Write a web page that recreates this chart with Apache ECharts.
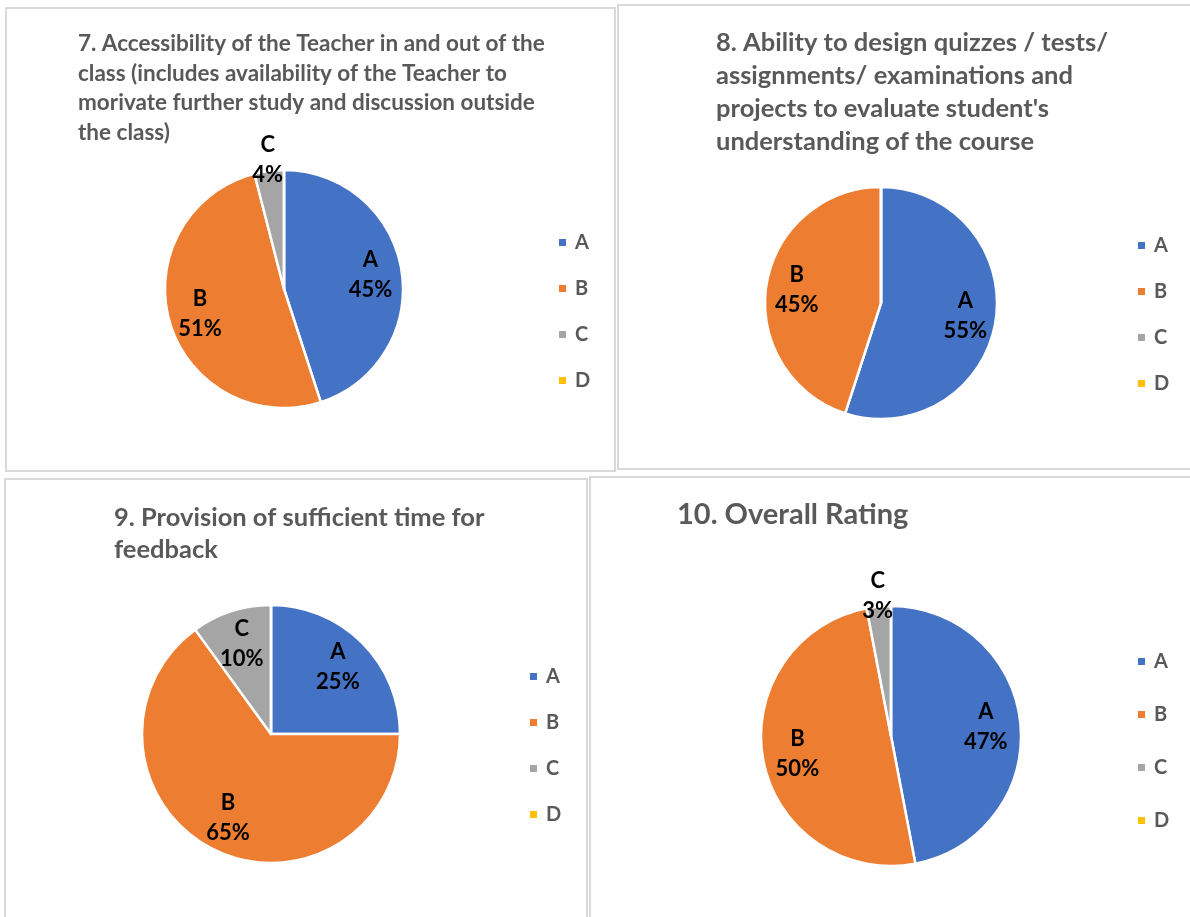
<!DOCTYPE html>
<html><head><meta charset="utf-8">
<script src="https://cdn.jsdelivr.net/npm/echarts@6/dist/echarts.min.js"></script>
<style>html,body{margin:0;padding:0;background:#fff}#c{width:1190px;height:917px}</style>
</head><body><div id="c"></div>
<script>
// ---- data ----
const categories = ['A', 'B', 'C', 'D'];
const q7Values = [45, 51, 4, 0];
const q8Values = [55, 45, 0, 0];
const q9Values = [25, 65, 10, 0];
const q10Values = [47, 50, 3, 0];
const q7Title = '7. Accessibility of the Teacher in and out of the\nclass (includes availability of the Teacher to\nmorivate further study and discussion outside\nthe class)';
const q8Title = '8. Ability to design quizzes / tests/\nassignments/ examinations and\nprojects to evaluate student\'s\nunderstanding of the course';
const q9Title = '9. Provision of sufficient time for\nfeedback';
const q10Title = '10. Overall Rating';
// categories whose label sits outside the pie
const q7OutsideLabels = ['C'];
const q8OutsideLabels = [];
const q9OutsideLabels = [];
const q10OutsideLabels = ['C'];

const colors = ['#4472C4', '#ED7D31', '#A5A5A5', '#FFC000'];
const FONT = 'Lato';

const panels = [
  {values: q7Values, title: q7Title, outside: q7OutsideLabels,
   center: [284, 289], r: 119, titlePos: [78, 29], titleSize: 22.5, titleLH: 29.5,
   legend: {left: 557, top: 232, gap: 25}},
  {values: q8Values, title: q8Title, outside: q8OutsideLabels,
   center: [881, 303], r: 116, titlePos: [716, 26], titleSize: 25.5, titleLH: 33,
   legend: {left: 1136, top: 235, gap: 25}},
  {values: q9Values, title: q9Title, outside: q9OutsideLabels,
   center: [271, 734], r: 129, titlePos: [114, 502], titleSize: 25.5, titleLH: 32,
   legend: {left: 528, top: 666, gap: 25}},
  {values: q10Values, title: q10Title, outside: q10OutsideLabels,
   center: [891, 736], r: 130, titlePos: [677, 497], titleSize: 29, titleLH: 36,
   legend: {left: 1136, top: 651, gap: 32}}
];

const borders = [
  {x: 6, y: 8, width: 609, height: 463},
  {x: 618, y: 5, width: 580, height: 464},
  {x: 5, y: 479, width: 582, height: 445},
  {x: 590, y: 477, width: 610, height: 447}
];

const labelStyle = {
  fontFamily: FONT, fontWeight: 'bold', fontSize: 22, lineHeight: 30, color: '#000',
  formatter: '{b}\n{c}%'
};

const series = [];
const titles = [];
const legends = [];
panels.forEach((p, i) => {
  series.push({
    type: 'pie', center: p.center, radius: [0, p.r], startAngle: 90, clockwise: true,
    silent: true, label: {show: false}, labelLine: {show: false},
    itemStyle: {borderColor: '#fff', borderWidth: 2.5},
    emphasis: {disabled: true},
    data: categories.map((c, k) => ({name: c, value: p.values[k], itemStyle: {color: colors[k]}}))
  });
  titles.push({
    text: p.title, left: p.titlePos[0], top: p.titlePos[1], padding: 0,
    textStyle: {fontFamily: FONT, fontWeight: 'bold', fontSize: p.titleSize, lineHeight: p.titleLH, color: '#595959'}
  });
  legends.push({
    orient: 'vertical', left: p.legend.left, top: p.legend.top, itemGap: p.legend.gap,
    itemWidth: 9, itemHeight: 9, icon: 'rect', padding: 0, selectedMode: false,
    data: categories,
    textStyle: {fontFamily: FONT, fontWeight: 'bold', fontSize: 20, lineHeight: 21, color: '#595959', padding: [0, 0, 0, 3]}
  });
});
// label-only rings (transparent) so labels are placed by the pie layout
panels.forEach((p) => {
  const mk = (wantOutside) => categories.map((c, k) => ({
    name: c, value: p.values[k],
    label: {show: p.values[k] > 0 && (p.outside.indexOf(c) >= 0) === wantOutside}
  }));
  series.push({
    type: 'pie', center: p.center, radius: [p.r * 0.42, p.r], startAngle: 90, silent: true,
    itemStyle: {color: 'rgba(0,0,0,0)', borderWidth: 0}, emphasis: {disabled: true},
    label: Object.assign({position: 'inside'}, labelStyle), labelLine: {show: false},
    data: mk(false)
  });
  series.push({
    type: 'pie', center: p.center, radius: [p.r, p.r + 16], startAngle: 90, silent: true,
    itemStyle: {color: 'rgba(0,0,0,0)', borderWidth: 0}, emphasis: {disabled: true},
    label: Object.assign({position: 'inside'}, labelStyle), labelLine: {show: false},
    data: mk(true)
  });
});

const chart = echarts.init(document.getElementById('c'), null, {renderer: 'canvas'});
chart.setOption({
  animation: false,
  color: colors,
  graphic: borders.map(b => ({
    type: 'rect', shape: b, silent: true, z: -10,
    style: {fill: 'none', stroke: '#d9d9d9', lineWidth: 2}
  })),
  title: titles,
  legend: legends,
  series: series
});
</script></body></html>
